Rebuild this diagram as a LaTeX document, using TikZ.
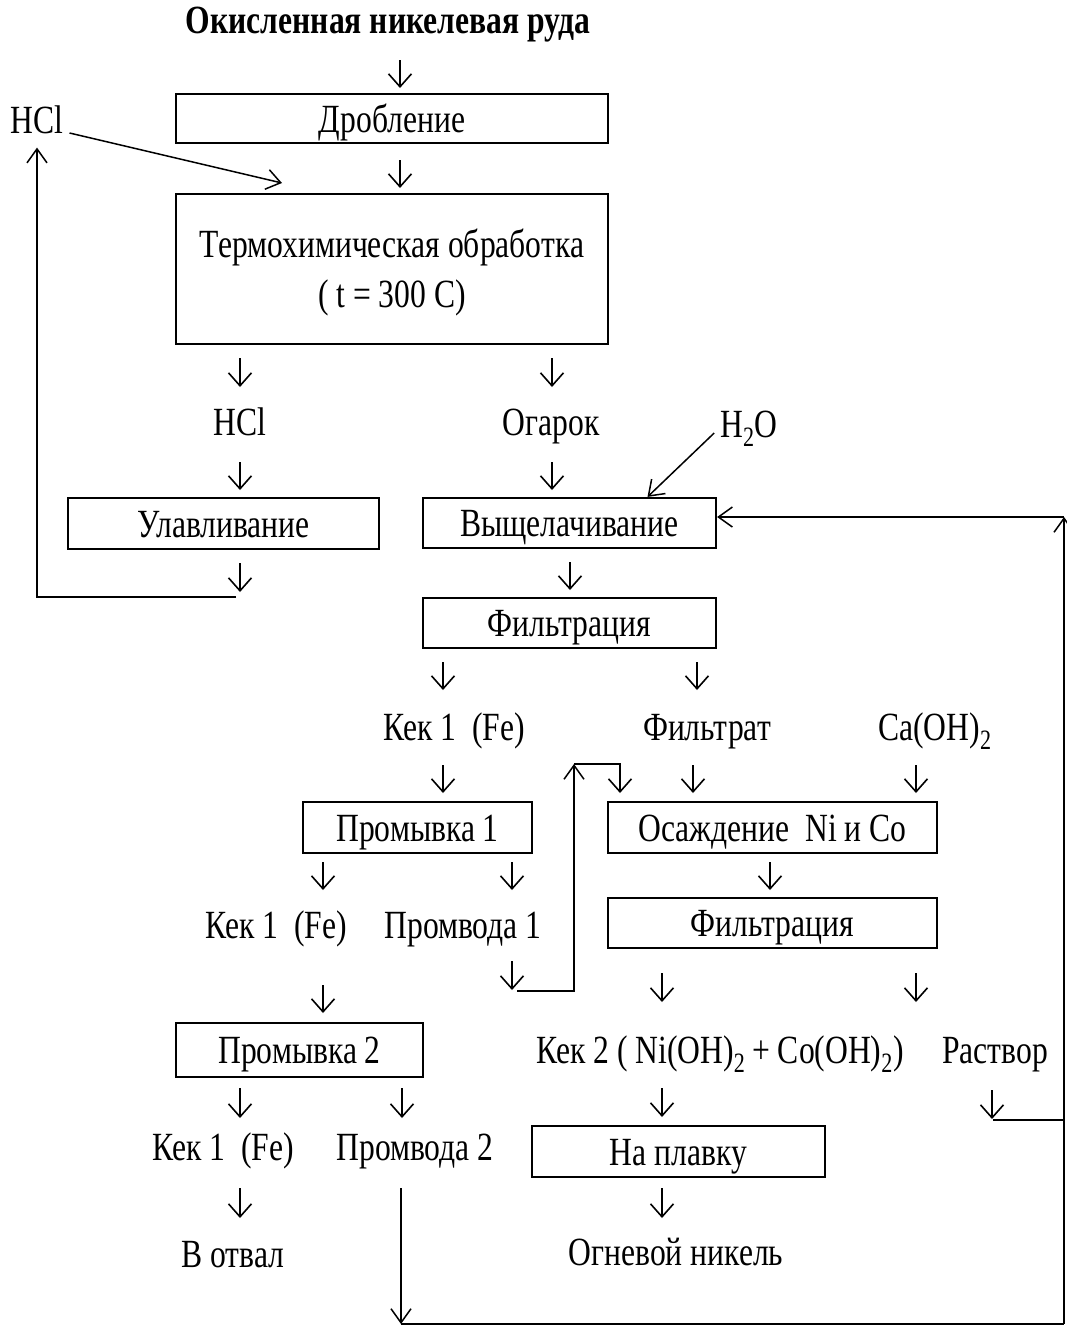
\documentclass[tikz,border=0pt]{standalone}
\usepackage{fontspec}
\setmainfont{Liberation Serif}[FakeStretch=0.79]
\usetikzlibrary{arrows.meta,positioning}

\begin{document}
\begin{tikzpicture}[x=1pt, y=-1pt,
	every node/.style={font=\fontsize{40}{50}\selectfont, inner sep=0pt},
	box/.style={rectangle, draw, line width=2.2pt, align=center, text height=27pt, text depth=0pt},
	lbl/.style={anchor=base},
	dn/.style={line width=1.6pt, -{Straight Barb[length=13pt, width=23pt]}},
	ln/.style={line width=1.5pt},
	arr/.style={ln, -{Straight Barb[length=14pt, width=20pt]}}
	]
	\useasboundingbox (0,0) rectangle (1067,1326);
	
	% boxes
	\node[box, minimum width=432, minimum height=49] (drob) at (392,118.5) {Дробление};
	\node[box, minimum width=432, minimum height=150, text height=77pt] (termo) at (392,269) {Термохимическая обработка\\( t = 300 C)};
	\node[box, minimum width=311, minimum height=51] (ulav) at (223.5,523.5) {Улавливание};
	\node[box, minimum width=293, minimum height=50] (vysh) at (569.5,523) {Выщелачивание};
	\node[box, minimum width=293, minimum height=50] (filt1) at (569.5,623) {Фильтрация};
	\node[box, minimum width=229, minimum height=51] (prom1) at (417.5,827.5) {Промывка 1};
	\node[box, minimum width=329, minimum height=51] (osazh) at (772.5,827.5) {Осаждение~ Ni и Co};
	\node[box, minimum width=329, minimum height=50] (filt2) at (772.5,923) {Фильтрация};
	\node[box, minimum width=247, minimum height=54] (prom2) at (299.5,1050) {Промывка 2};
	\node[box, minimum width=293, minimum height=51] (plavka) at (678.5,1151.5) {На плавку};
	
	% labels
	\node[lbl, font=\fontsize{40}{50}\selectfont\bfseries] (ore) at (388,33) {Окисленная никелевая руда};
	\node[lbl] (hcl0) at (37,133) {HCl};
	\node[lbl] (hcl1) at (240,435) {HCl};
	\node[lbl] (ogarok) at (551,435) {Огарок};
	\node[lbl] (h2o) at (749,437) {H\textsubscript{2}O};
	\node[lbl] (kek1a) at (454,740) {Кек 1~ (Fe)};
	\node[lbl] (filtrat) at (707,740) {Фильтрат};
	\node[lbl] (caoh) at (935,740) {Ca(OH)\textsubscript{2}};
	\node[lbl] (kek1b) at (276,938) {Кек 1~ (Fe)};
	\node[lbl] (promv1) at (463,938) {Промвода 1};
	\node[lbl] (kek2) at (720,1063) {Кек 2 ( Ni(OH)\textsubscript{2}\,+ Co(OH)\textsubscript{2})};
	\node[lbl] (rastvor) at (995,1063) {Раствор};
	\node[lbl] (kek1c) at (223,1160) {Кек 1~ (Fe)};
	\node[lbl] (promv2) at (415,1160) {Промвода 2};
	\node[lbl] (otval) at (233,1267) {В отвал};
	\node[lbl] (nickel) at (676,1265) {Огневой никель};
	
	% short arrows
	\draw[dn] (400,60) -- (400,88);
	\draw[dn] (400,160) -- (400,188);
	\draw[dn] (240,358) -- (240,387);
	\draw[dn] (552,358) -- (552,387);
	\draw[dn] (240,462) -- (240,490);
	\draw[dn] (552,462) -- (552,490);
	\draw[dn] (240,563) -- (240,592);
	\draw[dn] (570,562) -- (570,590);
	\draw[dn] (443,662) -- (443,690);
	\draw[dn] (697,662) -- (697,690);
	\draw[dn] (443,765) -- (443,793);
	\draw[dn] (693,765) -- (693,793);
	\draw[dn] (916,765) -- (916,793);
	\draw[dn] (323,862) -- (323,890);
	\draw[dn] (512,862) -- (512,890);
	\draw[dn] (770,862) -- (770,890);
	\draw[dn] (512,961) -- (512,990);
	\draw[dn] (323,985) -- (323,1013);
	\draw[dn] (662,973) -- (662,1002);
	\draw[dn] (916,973) -- (916,1002);
	\draw[dn] (240,1088) -- (240,1118);
	\draw[dn] (402,1088) -- (402,1118);
	\draw[dn] (662,1088) -- (662,1117);
	\draw[dn] (992,1090) -- (992,1119);
	\draw[dn] (240,1188) -- (240,1218);
	\draw[dn] (662,1188) -- (662,1218);
	
	% recycle lines
	\coordinate (ulavret) at (236,597);
	\coordinate (p1ret) at (517,991);
	\coordinate (p1up) at (574,764);
	\coordinate (p2out) at (401,1188);
	\coordinate (p2bot) at (401,1324);
	\coordinate (rbot) at (1064,1324);
	\coordinate (rtop) at (1064,517);
	\coordinate (rastret) at (993,1120);
	
	\draw[arr] (hcl0.base east) ++(6,0) -- (282,183);
	\draw[arr] (ulavret) -| ([yshift=-14pt]hcl0.south);
	\draw[arr] (h2o.base west) ++(-6,-4) -- ([xshift=78pt]vysh.north);
	\draw[arr] (p1ret) -| (p1up);
	\draw[dn] (p1up) -| (620,793);
	\draw[arr] (p2out) -- (p2bot);
	\draw[ln] (p2bot) -- (rbot);
	\draw[arr] (rbot) -- (rtop);
	\draw[ln] (rastret) -- (rastret -| rbot);
	\draw[arr] (rtop) -- (vysh.east |- rtop);
\end{tikzpicture}
\end{document}
